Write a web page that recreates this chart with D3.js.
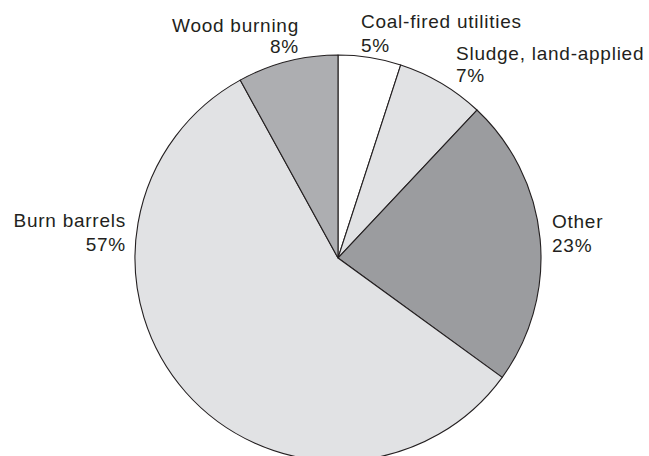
<!DOCTYPE html>
<html>
<head>
<meta charset="utf-8">
<script src="https://cdn.jsdelivr.net/npm/d3@7"></script>
<style>
  html, body { margin: 0; padding: 0; background: #fff; }
  svg { display: block; }
  text { font-family: "Liberation Sans", Arial, sans-serif; font-size: 19px; fill: #231f20; letter-spacing: 0.75px; }
</style>
</head>
<body>
<svg id="chart" width="649" height="456"></svg>
<script>
// Data
const categories = ["Coal-fired utilities", "Sludge, land-applied", "Other", "Burn barrels", "Wood burning"];
const shares = [5, 7, 23, 57, 8];
const percentLabels = ["5%", "7%", "23%", "57%", "8%"];

// Styling / layout (not data)
const fills = ["#ffffff", "#e1e2e4", "#9b9c9f", "#e1e2e4", "#adaeb1"];
// label anchor offsets relative to pie centre: [dx, dy of first baseline, line gap, anchor]
const labelLayout = [
  [23, -230, 24, "start"],
  [118, -198, 22, "start"],
  [214, -30, 24, "start"],
  [-212, -31, 24, "end"],
  [-39, -226, 21, "end"]
];

const svg = d3.select("#chart");
const cx = 338, cy = 258, r = 203;
const g = svg.append("g").attr("transform", `translate(${cx},${cy})`);

const pie = d3.pie().sort(null).value(d => d)(shares);
const arc = d3.arc().innerRadius(0).outerRadius(r);

g.selectAll("path.slice")
  .data(pie)
  .join("path")
  .attr("class", "slice")
  .attr("d", arc)
  .attr("fill", (d, i) => fills[i])
  .attr("stroke", "#231f20")
  .attr("stroke-width", 1.1)
  .attr("stroke-linejoin", "round");

const labels = g.selectAll("g.label")
  .data(categories)
  .join("g")
  .attr("class", "label");

labels.append("text")
  .attr("x", (d, i) => labelLayout[i][0])
  .attr("y", (d, i) => labelLayout[i][1])
  .attr("text-anchor", (d, i) => labelLayout[i][3])
  .text(d => d);

labels.append("text")
  .attr("x", (d, i) => labelLayout[i][0])
  .attr("y", (d, i) => labelLayout[i][1] + labelLayout[i][2])
  .attr("text-anchor", (d, i) => labelLayout[i][3])
  .text((d, i) => percentLabels[i]);
</script>
</body>
</html>
